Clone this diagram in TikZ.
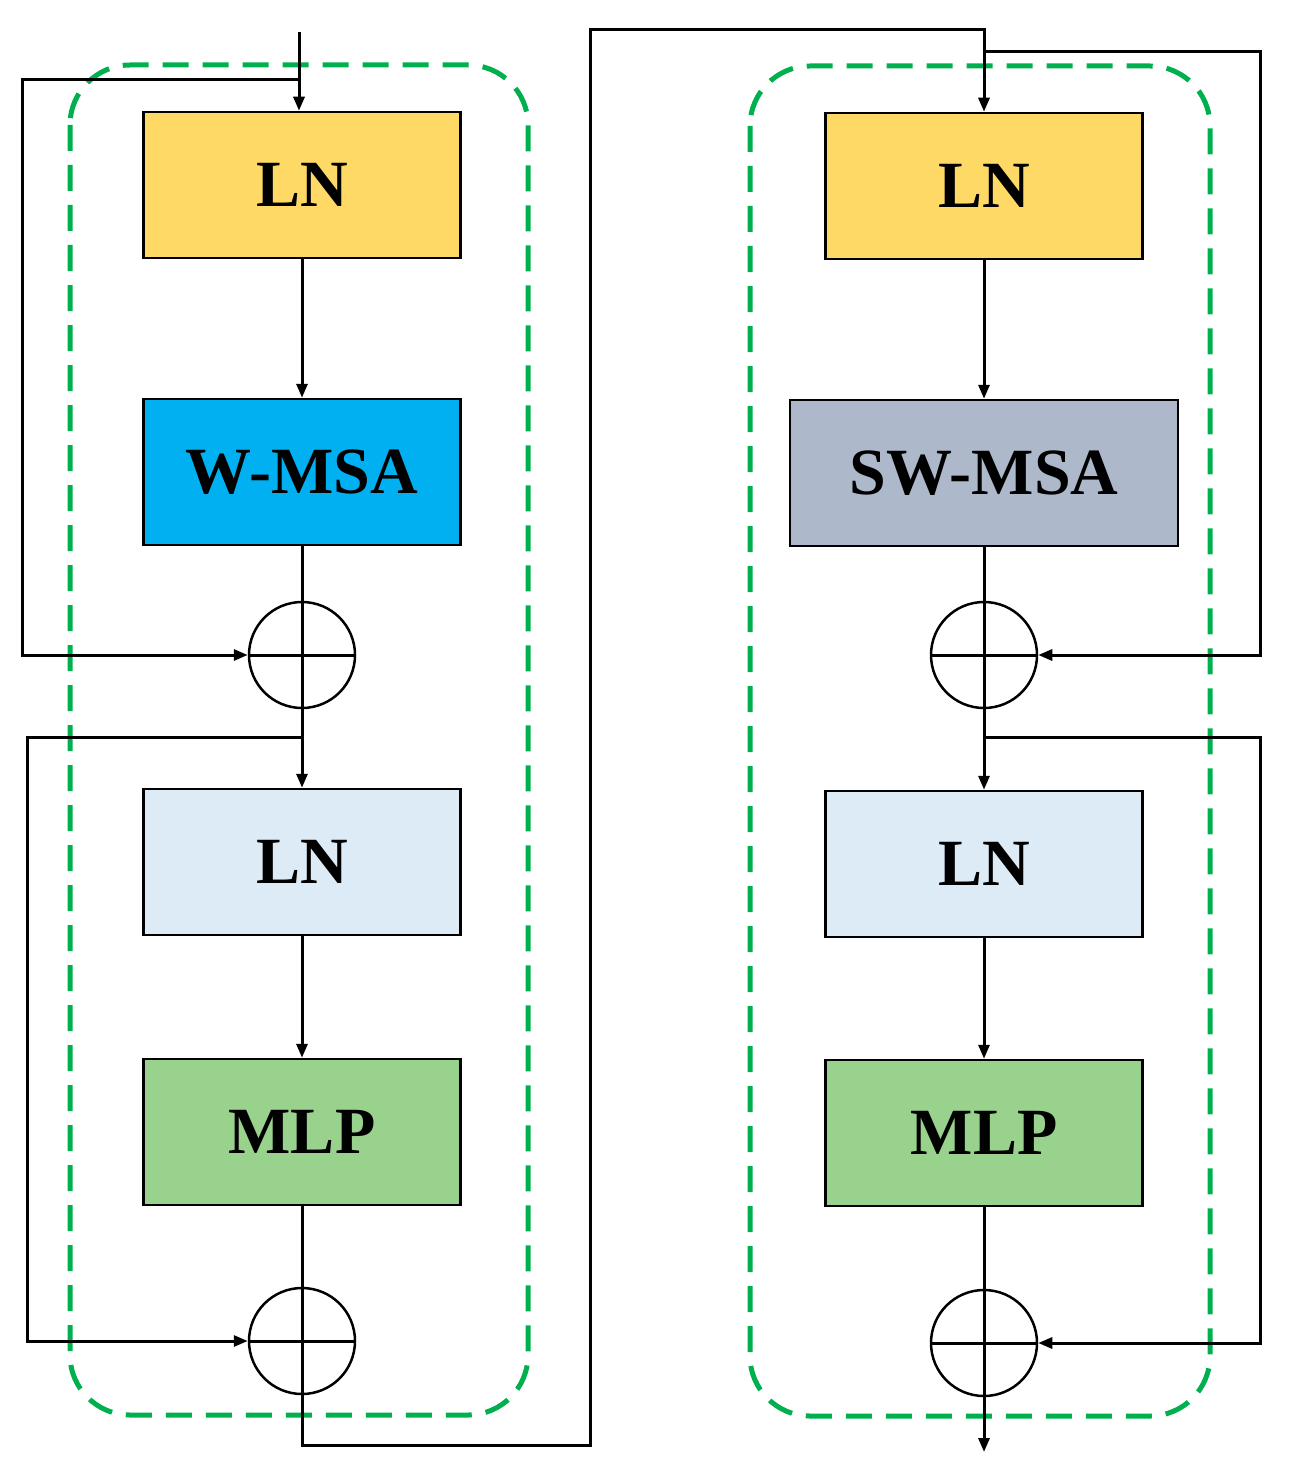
\documentclass[tikz,border=0pt]{standalone}
\usepackage{fontspec}
\setmainfont{Liberation Serif}
\usetikzlibrary{arrows.meta}
\definecolor{cyel}{HTML}{FFD966}
\definecolor{cblue}{HTML}{00B0F0}
\definecolor{clight}{HTML}{DDEBF7}
\definecolor{cgreen}{HTML}{99D28C}
\definecolor{cgray}{HTML}{ADB9CA}
\definecolor{cdash}{HTML}{00B04F}
\begin{document}
\begin{tikzpicture}[x=1pt,y=-1pt,
 box/.style={draw,line width=2.5pt,minimum width=317pt,minimum height=146pt,inner sep=0pt,font=\fontsize{66}{70}\selectfont\bfseries},
 plus/.style={draw,circle,line width=2.5pt,minimum size=106pt,inner sep=0pt},
 ln/.style={line width=3pt},
 arr/.style={ln,-{Triangle[length=14pt,width=11pt]}},
 dashbox/.style={draw=cdash,line width=5pt,dash pattern=on 26pt off 14pt,rounded corners=60pt}]
\useasboundingbox (0,0) rectangle (1293,1479);
\draw[dashbox] (70,65) rectangle (528,1415);
\draw[dashbox] (750,66) rectangle (1210,1416);
% left column
\node[box,fill=cyel] (ln1) at (302,185) {LN};
\node[box,fill=cblue] (wmsa) at (302,472) {W-MSA};
\node[plus] (p1) at (302,655) {};
\node[box,fill=clight] (ln2) at (302,862) {LN};
\node[box,fill=cgreen] (mlp1) at (302,1132) {MLP};
\node[plus] (p2) at (302,1341) {};
% right column
\node[box,fill=cyel] (ln3) at (984,186) {LN};
\node[box,fill=cgray,minimum width=388pt] (swmsa) at (984,473) {SW-MSA};
\node[plus] (p3) at (984,655) {};
\node[box,fill=clight] (ln4) at (984,864) {LN};
\node[box,fill=cgreen] (mlp2) at (984,1133) {MLP};
\node[plus] (p4) at (984,1343) {};
% plus crosses
\foreach \p in {p1,p2,p3,p4}{\draw[ln] (\p.west) -- (\p.east); \draw[ln] (\p.north) -- (\p.south);}
% coordinates
\coordinate (in) at (299,32);
\coordinate (s1) at (299,80);
\coordinate (s1a) at (22,80);
\coordinate (s1b) at (22,655);
\coordinate (s2) at (302,737);
\coordinate (s2a) at (27,737);
\coordinate (s2b) at (27,1341);
\coordinate (b1) at (302,1445);
\coordinate (b2) at (590,1445);
\coordinate (b3) at (590,30);
\coordinate (b4) at (984,30);
\coordinate (r1) at (984,52);
\coordinate (r1a) at (1260,52);
\coordinate (r1b) at (1260,655);
\coordinate (r2) at (984,737);
\coordinate (r2a) at (1260,737);
\coordinate (r2b) at (1260,1343);
\coordinate (out) at (984,1452);
% left connectors
\draw[arr] (in) -- (ln1.north -| in);
\draw[arr] (s1) -- (s1a) -- (s1b) -- (p1.west);
\draw[arr] (ln1) -- (wmsa);
\draw[arr] (wmsa) -- (ln2);
\draw[arr] (s2) -- (s2a) -- (s2b) -- (p2.west);
\draw[arr] (ln2) -- (mlp1);
\draw[arr] (mlp1.south) -- (b1) -- (b2) -- (b3) -- (b4) -- (ln3.north);
% right connectors
\draw[arr] (r1) -- (r1a) -- (r1b) -- (p3.east);
\draw[arr] (ln3) -- (swmsa);
\draw[arr] (swmsa) -- (ln4);
\draw[arr] (r2) -- (r2a) -- (r2b) -- (p4.east);
\draw[arr] (ln4) -- (mlp2);
\draw[arr] (mlp2.south) -- (out);
\end{tikzpicture}
\end{document}
